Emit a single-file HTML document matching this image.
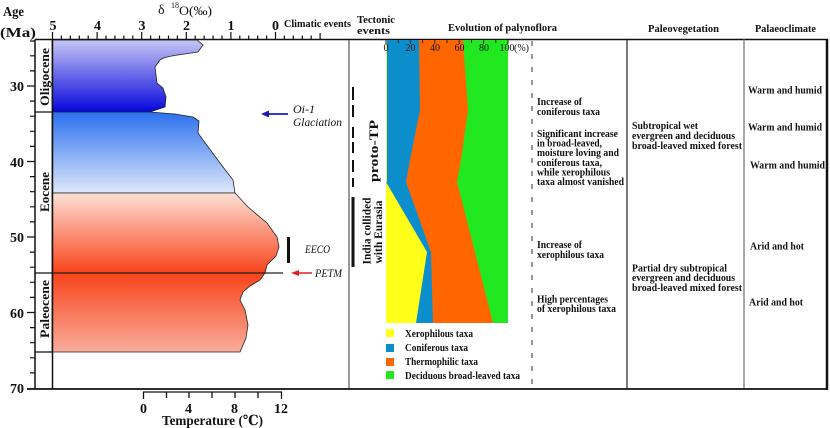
<!DOCTYPE html>
<html>
<head>
<meta charset="utf-8">
<style>
html,body{margin:0;padding:0;background:#fff;}
svg{display:block;}
text{font-family:"Liberation Serif","DejaVu Serif","Noto Serif CJK SC",serif;fill:#111;}
.b{font-weight:bold;}
.i{font-style:italic;}
</style>
</head>
<body>
<svg width="830" height="428" viewBox="0 0 830 428" xmlns="http://www.w3.org/2000/svg">
<defs>
<linearGradient id="g1" gradientUnits="userSpaceOnUse" x1="0" y1="40" x2="0" y2="112">
<stop offset="0" stop-color="#c6c6f6"/><stop offset="1" stop-color="#0606dc"/>
</linearGradient>
<linearGradient id="g2" gradientUnits="userSpaceOnUse" x1="0" y1="112" x2="0" y2="193">
<stop offset="0" stop-color="#2a70ee"/><stop offset="1" stop-color="#dfe8fb"/>
</linearGradient>
<linearGradient id="g3" gradientUnits="userSpaceOnUse" x1="0" y1="193" x2="0" y2="273">
<stop offset="0" stop-color="#fde0d6"/><stop offset="1" stop-color="#f8441a"/>
</linearGradient>
<linearGradient id="g4" gradientUnits="userSpaceOnUse" x1="0" y1="273" x2="0" y2="352">
<stop offset="0" stop-color="#f8441a"/><stop offset="1" stop-color="#f9ac9c"/>
</linearGradient>
</defs>
<rect width="830" height="428" fill="#fff"/>

<!-- d18O areas -->
<path d="M52,40 L197,40 L203,45 L198,52 C180,55 165,56 160,60 L155,67 L157,83 L163,88 L166,97 L165,107 L150,112 L52,112 Z" fill="url(#g1)" stroke="#222" stroke-width="0.8"/>
<path d="M52,112 L150,112 L175,114 L193,117 L199,121 L198,133 L203,140 L220,163 L233,180 L235,193 L52,193 Z" fill="url(#g2)" stroke="#222" stroke-width="0.8"/>
<path d="M52,193 L235,193 L248,207 L267,223 L277,237 L279,247 L276,256 L267,265 L265,273 L52,273 Z" fill="url(#g3)" stroke="#222" stroke-width="0.8"/>
<path d="M52,273 L265,273 L260,280 L250,286 L243,292 L240,300 L245,310 L248,325 L246,338 L240,352 L52,352 Z" fill="url(#g4)" stroke="#222" stroke-width="0.8"/>
<line x1="52" y1="273" x2="283" y2="273" stroke="#222" stroke-width="1.2"/>

<!-- epoch column -->
<line x1="35" y1="39.5" x2="52" y2="39.5" stroke="#111" stroke-width="1.5"/>
<line x1="35" y1="112" x2="52" y2="112" stroke="#111" stroke-width="1.3"/>
<line x1="35" y1="273" x2="52" y2="273" stroke="#111" stroke-width="1.3"/>
<line x1="35" y1="352" x2="52" y2="352" stroke="#111" stroke-width="1.3"/>
<line x1="52.5" y1="39.5" x2="52.5" y2="389" stroke="#111" stroke-width="1.5"/>
<text class="b" font-size="13" text-anchor="middle" transform="translate(49,77) rotate(-90)" textLength="58" lengthAdjust="spacingAndGlyphs">Oligocene</text>
<text class="b" font-size="13" text-anchor="middle" transform="translate(49,192) rotate(-90)" textLength="40" lengthAdjust="spacingAndGlyphs">Eocene</text>
<text class="b" font-size="13" text-anchor="middle" transform="translate(49,309) rotate(-90)" textLength="58" lengthAdjust="spacingAndGlyphs">Paleocene</text>

<!-- age axis -->
<line x1="35" y1="39.5" x2="35" y2="389" stroke="#111" stroke-width="1.5"/>
<path d="M30,41H35 M30,55.8H35 M30,70.9H35 M27,86H35 M30,101.1H35 M30,116.2H35 M30,131.3H35 M30,146.4H35 M27,161.5H35 M30,176.6H35 M30,191.7H35 M30,206.8H35 M30,221.9H35 M27,237H35 M30,252.1H35 M30,267.2H35 M30,282.3H35 M30,297.4H35 M27,312.5H35 M30,327.6H35 M30,342.7H35 M30,357.8H35 M30,372.9H35" stroke="#111" stroke-width="1.2" fill="none"/>
<text class="b" font-size="14" text-anchor="end" x="24" y="91">30</text>
<text class="b" font-size="14" text-anchor="end" x="24" y="167">40</text>
<text class="b" font-size="14" text-anchor="end" x="24" y="242">50</text>
<text class="b" font-size="14" text-anchor="end" x="24" y="318">60</text>
<text class="b" font-size="14" text-anchor="end" x="24" y="393">70</text>
<text class="b" font-size="14" x="3" y="16" textLength="21" lengthAdjust="spacingAndGlyphs">Age</text>
<text class="b" font-size="14" x="0" y="37" textLength="36" lengthAdjust="spacingAndGlyphs">(Ma)</text>

<!-- top d18O axis -->
<line x1="52" y1="39.5" x2="828" y2="39.5" stroke="#111" stroke-width="1.5"/>
<path d="M52.5,40V32 M61.4,40V35.5 M70.3,40V35.5 M79.3,40V35.5 M88.2,40V35.5 M97.1,40V32 M106,40V35.5 M114.9,40V35.5 M123.9,40V35.5 M132.8,40V35.5 M141.7,40V32 M150.6,40V35.5 M159.5,40V35.5 M168.5,40V35.5 M177.4,40V35.5 M186.3,40V32 M195.2,40V35.5 M204.1,40V35.5 M213.1,40V35.5 M222,40V35.5 M230.9,40V32 M239.8,40V35.5 M248.7,40V35.5 M257.7,40V35.5 M266.6,40V35.5 M275.5,40V32 M284.4,40V35.5 M293.3,40V35.5 M302.3,40V35.5 M311.2,40V35.5 M320.1,40V33" stroke="#111" stroke-width="1.2" fill="none"/>
<text class="b" font-size="14" text-anchor="middle" x="53" y="30">5</text>
<text class="b" font-size="14" text-anchor="middle" x="97.5" y="30">4</text>
<text class="b" font-size="14" text-anchor="middle" x="142" y="30">3</text>
<text class="b" font-size="14" text-anchor="middle" x="186.5" y="30">2</text>
<text class="b" font-size="14" text-anchor="middle" x="231" y="30">1</text>
<text class="b" font-size="14" text-anchor="middle" x="275.5" y="30">0</text>
<text font-size="14" x="158" y="14">δ</text>
<text font-size="8" x="171" y="8">18</text>
<text font-size="13" x="179" y="15" textLength="33" lengthAdjust="spacingAndGlyphs">O(‰)</text>

<!-- climatic events -->
<text class="b" font-size="11" x="284" y="27" textLength="67" lengthAdjust="spacingAndGlyphs">Climatic events</text>
<line x1="288" y1="114" x2="267" y2="114" stroke="#1a1ab4" stroke-width="1.8"/>
<path d="M261,114 L269,110.5 L269,117.5 Z" fill="#1a1ab4"/>
<text class="i" font-size="12" x="293" y="113">Oi-1</text>
<text class="i" font-size="12" x="293" y="126" textLength="49" lengthAdjust="spacingAndGlyphs">Glaciation</text>
<rect x="287" y="237" width="3" height="26" fill="#111"/>
<text class="i" font-size="12" x="305" y="253" textLength="25" lengthAdjust="spacingAndGlyphs">EECO</text>
<line x1="312" y1="273" x2="297" y2="273" stroke="#e02020" stroke-width="1.5"/>
<path d="M291,273 L299,270 L299,276 Z" fill="#e02020"/>
<text class="i" font-size="12" x="315" y="277" textLength="27" lengthAdjust="spacingAndGlyphs">PETM</text>

<!-- temperature axis -->
<line x1="143" y1="392" x2="282" y2="392" stroke="#111" stroke-width="1.3"/>
<path d="M143.5,392V399 M166.5,392V398 M189,392V398 M212,392V398 M235,392V398 M258,392V398 M281.5,392V399" stroke="#111" stroke-width="1.3" fill="none"/>
<text class="b" font-size="14" text-anchor="middle" x="143.5" y="413">0</text>
<text class="b" font-size="14" text-anchor="middle" x="188.5" y="413">4</text>
<text class="b" font-size="14" text-anchor="middle" x="234.5" y="413">8</text>
<text class="b" font-size="14" text-anchor="middle" x="281" y="413">12</text>
<text class="b" font-size="14" x="162" y="425" textLength="101" lengthAdjust="spacingAndGlyphs">Temperature (℃)</text>

<!-- dividers -->
<line x1="349" y1="39.5" x2="349" y2="389" stroke="#333" stroke-width="1"/>
<line x1="532" y1="41" x2="532" y2="389" stroke="#777" stroke-width="1.5" stroke-dasharray="5,8"/>
<line x1="627" y1="39.5" x2="627" y2="389" stroke="#222" stroke-width="1.2"/>
<line x1="744" y1="39.5" x2="744" y2="389" stroke="#8a8a8a" stroke-width="1.5"/>
<line x1="827" y1="39" x2="827" y2="390" stroke="#111" stroke-width="2.5"/>
<line x1="27" y1="389" x2="828" y2="389" stroke="#111" stroke-width="1.8"/>

<!-- tectonic -->
<text class="b" font-size="11" x="357" y="23" textLength="38" lengthAdjust="spacingAndGlyphs">Tectonic</text>
<text class="b" font-size="11" x="357" y="34" textLength="33" lengthAdjust="spacingAndGlyphs">events</text>
<path d="M353,87V100 M353,105V117 M353,127V138 M353,142V153 M353,160V172 M353,178V187" stroke="#111" stroke-width="2" fill="none"/>
<rect x="351.5" y="197" width="3" height="70" fill="#111"/>
<text class="b" font-size="13" text-anchor="middle" transform="translate(378,151) rotate(-90)" textLength="62" lengthAdjust="spacingAndGlyphs">proto-TP</text>
<text class="b" font-size="12" text-anchor="middle" transform="translate(370.5,231) rotate(-90)" textLength="67" lengthAdjust="spacingAndGlyphs">India collided</text>
<text class="b" font-size="12" text-anchor="middle" transform="translate(382,232) rotate(-90)" textLength="63" lengthAdjust="spacingAndGlyphs">with Eurasia</text>

<!-- palynoflora stacked chart -->
<text class="b" font-size="11" x="448" y="31" textLength="109" lengthAdjust="spacingAndGlyphs">Evolution of  palynoflora</text>
<rect x="386" y="40" width="122" height="283" fill="#22e822"/>
<path d="M386,40 L463,40 L468,110 L461,160 L457,182 L493,323 L386,323 Z" fill="#ff6600"/>
<path d="M386,40 L419,40 L420,110 L410,160 L406,182 L431,252 L433,323 L386,323 Z" fill="#0d8ecc"/>
<path d="M386,182 L427,252 L416,323 L386,323 Z" fill="#ffff1a"/>
<line x1="386.5" y1="40" x2="386.5" y2="182" stroke="#e8f060" stroke-width="1"/>
<path d="M386,40V44 M398.2,40V43 M410.4,40V44 M422.6,40V43 M434.8,40V44 M447,40V43 M459.2,40V44 M471.4,40V43 M483.6,40V44 M495.8,40V43 M508,40V44" stroke="#222" stroke-width="1" fill="none"/>
<text font-size="10" text-anchor="middle" x="386" y="51">0</text>
<text font-size="10" text-anchor="middle" x="410.5" y="51">20</text>
<text font-size="10" text-anchor="middle" x="435" y="51">40</text>
<text font-size="10" text-anchor="middle" x="459.5" y="51">60</text>
<text font-size="10" text-anchor="middle" x="484" y="51">80</text>
<text font-size="10" text-anchor="middle" x="507" y="51">100</text>
<text font-size="10" x="514" y="51">(%)</text>

<!-- legend -->
<rect x="386" y="329" width="8" height="8" fill="#ffff1a"/>
<rect x="386" y="344" width="8" height="8" fill="#0d8ecc"/>
<rect x="386" y="358" width="8" height="8" fill="#ff6600"/>
<rect x="386" y="371" width="8" height="8" fill="#22e822"/>
<text class="b" font-size="10" x="405" y="337" textLength="68" lengthAdjust="spacingAndGlyphs">Xerophilous taxa</text>
<text class="b" font-size="10" x="405" y="351" textLength="63" lengthAdjust="spacingAndGlyphs">Coniferous taxa</text>
<text class="b" font-size="10" x="405" y="365" textLength="73" lengthAdjust="spacingAndGlyphs">Thermophilic taxa</text>
<text class="b" font-size="10" x="405" y="379" textLength="115" lengthAdjust="spacingAndGlyphs">Deciduous broad-leaved taxa</text>

<!-- palynoflora descriptions -->
<g class="b" font-size="10">
<text class="b" x="537" y="105" textLength="45" lengthAdjust="spacingAndGlyphs">Increase of</text>
<text class="b" x="537" y="115" textLength="63" lengthAdjust="spacingAndGlyphs">coniferous taxa</text>
<text class="b" x="537" y="137" textLength="81" lengthAdjust="spacingAndGlyphs">Significant increase</text>
<text class="b" x="537" y="146.5" textLength="65" lengthAdjust="spacingAndGlyphs">in broad-leaved,</text>
<text class="b" x="537" y="156" textLength="82" lengthAdjust="spacingAndGlyphs">moisture loving and</text>
<text class="b" x="537" y="166" textLength="65" lengthAdjust="spacingAndGlyphs">coniferous taxa,</text>
<text class="b" x="537" y="175.5" textLength="73" lengthAdjust="spacingAndGlyphs">while xerophilous</text>
<text class="b" x="537" y="185" textLength="87" lengthAdjust="spacingAndGlyphs">taxa almost vanished</text>
<text class="b" x="537" y="248" textLength="45" lengthAdjust="spacingAndGlyphs">Increase of</text>
<text class="b" x="537" y="258" textLength="67" lengthAdjust="spacingAndGlyphs">xerophilous taxa</text>
<text class="b" x="537" y="302.5" textLength="71" lengthAdjust="spacingAndGlyphs">High percentages</text>
<text class="b" x="537" y="312" textLength="79" lengthAdjust="spacingAndGlyphs">of xerophilous taxa</text>
</g>

<!-- paleovegetation -->
<text class="b" font-size="11" x="648" y="32" textLength="71" lengthAdjust="spacingAndGlyphs">Paleovegetation</text>
<text class="b" font-size="10" x="632" y="129" textLength="66" lengthAdjust="spacingAndGlyphs">Subtropical wet</text>
<text class="b" font-size="10" x="632" y="139" textLength="103" lengthAdjust="spacingAndGlyphs">evergreen and deciduous</text>
<text class="b" font-size="10" x="632" y="149" textLength="110" lengthAdjust="spacingAndGlyphs">broad-leaved mixed forest</text>
<text class="b" font-size="10" x="632" y="271.5" textLength="95" lengthAdjust="spacingAndGlyphs">Partial dry subtropical</text>
<text class="b" font-size="10" x="632" y="281" textLength="103" lengthAdjust="spacingAndGlyphs">evergreen and deciduous</text>
<text class="b" font-size="10" x="632" y="291" textLength="110" lengthAdjust="spacingAndGlyphs">broad-leaved mixed forest</text>

<!-- palaeoclimate -->
<text class="b" font-size="11" x="755" y="32" textLength="61" lengthAdjust="spacingAndGlyphs">Palaeoclimate</text>
<text class="b" font-size="10" x="748" y="93.5" textLength="74" lengthAdjust="spacingAndGlyphs">Warm and humid</text>
<text class="b" font-size="10" x="748" y="130.5" textLength="74" lengthAdjust="spacingAndGlyphs">Warm and humid</text>
<text class="b" font-size="10" x="750" y="168.5" textLength="75" lengthAdjust="spacingAndGlyphs">Warm and humid</text>
<text class="b" font-size="10" x="750" y="249.5" textLength="54" lengthAdjust="spacingAndGlyphs">Arid and hot</text>
<text class="b" font-size="10" x="749" y="305.5" textLength="54" lengthAdjust="spacingAndGlyphs">Arid and hot</text>
</svg>
</body>
</html>
